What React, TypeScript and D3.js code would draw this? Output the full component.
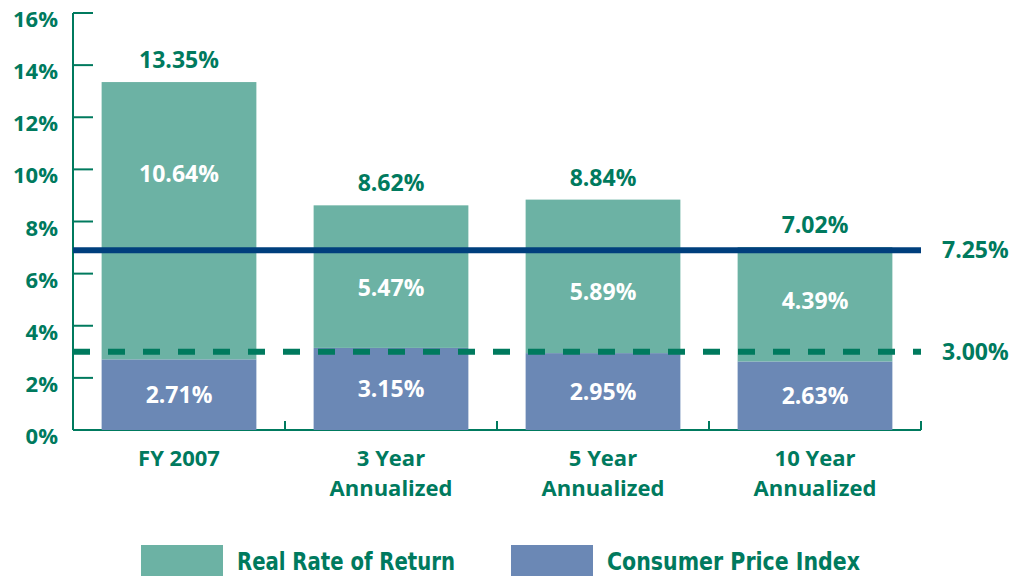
import * as d3 from "d3";
import { useEffect, useRef } from "react";

// chart values
const categories = ["FY 2007", "3 Year\nAnnualized", "5 Year\nAnnualized", "10 Year\nAnnualized"];
const cpiValues = [2.71, 3.15, 2.95, 2.63];
const realValues = [10.64, 5.47, 5.89, 4.39];
const totalValues = [13.35, 8.62, 8.84, 7.02];
const yTicks = [0, 2, 4, 6, 8, 10, 12, 14, 16];
const seriesNames = ["Real Rate of Return", "Consumer Price Index"];
// reference lines: label + where they are drawn in the picture
const targetLabels = ["7.25%", "3.00%"];
const targetLevels = [6.9, 3.0];

const GREEN = "#007a5e";
const REAL = "#6cb2a4";
const CPI = "#6b88b5";
const NAVY = "#003f7d";
const FONT = "'Open Sans', 'Noto Sans', sans-serif";
const NARROW = "'DejaVu Sans', sans-serif";

const App = () => {
  const svgRef = useRef<SVGSVGElement | null>(null);

  useEffect(() => {
    if (!svgRef.current) return;
    const svg = d3.select(svgRef.current);
    svg.selectAll("*").remove();

    const left = 73;
    const right = 921;
    const top = 13;
    const bottom = 430;

    const x = d3
      .scaleBand<number>()
      .domain(categories.map((_, i) => i))
      .range([left, right])
      .paddingInner(0.27)
      .paddingOuter(0.135);

    const y = d3.scaleLinear().domain([0, 16]).range([bottom, top]);

    // y axis
    svg
      .append("line")
      .attr("x1", left)
      .attr("x2", left)
      .attr("y1", y(16))
      .attr("y2", bottom)
      .attr("stroke", GREEN)
      .attr("stroke-width", 2);

    svg
      .selectAll(".ytick")
      .data(yTicks)
      .join("line")
      .attr("x1", left)
      .attr("x2", left + 20)
      .attr("y1", (d) => y(d))
      .attr("y2", (d) => y(d))
      .attr("stroke", GREEN)
      .attr("stroke-width", 2);

    // labels sit a little below their ticks, as in the original
    svg
      .selectAll(".ylabel")
      .data(yTicks)
      .join("text")
      .attr("x", 58)
      .attr("y", (d) => y(d) + 14)
      .attr("text-anchor", "end")
      .attr("font-family", FONT)
      .attr("font-weight", 700)
      .attr("font-size", 22)
      .attr("fill", GREEN)
      .text((d) => `${d}%`);

    // x axis
    svg
      .append("line")
      .attr("x1", left)
      .attr("x2", right)
      .attr("y1", bottom)
      .attr("y2", bottom)
      .attr("stroke", GREEN)
      .attr("stroke-width", 2);

    const step = x.step();
    svg
      .selectAll(".xtick")
      .data(categories.map((_, i) => i))
      .join("line")
      .attr("x1", (i) => left + step * (i + 1))
      .attr("x2", (i) => left + step * (i + 1))
      .attr("y1", bottom)
      .attr("y2", bottom - 9)
      .attr("stroke", GREEN)
      .attr("stroke-width", 2);

    // stacked bars
    const bars = svg
      .selectAll(".bar")
      .data(categories.map((_, i) => i))
      .join("g");

    bars
      .append("rect")
      .attr("x", (i) => x(i)!)
      .attr("width", x.bandwidth())
      .attr("y", (i) => y(cpiValues[i]))
      .attr("height", (i) => bottom - y(cpiValues[i]))
      .attr("fill", CPI);

    bars
      .append("rect")
      .attr("x", (i) => x(i)!)
      .attr("width", x.bandwidth())
      .attr("y", (i) => y(cpiValues[i] + realValues[i]))
      .attr("height", (i) => y(cpiValues[i]) - y(cpiValues[i] + realValues[i]))
      .attr("fill", REAL);

    // reference lines
    svg
      .append("line")
      .attr("x1", left)
      .attr("x2", right)
      .attr("y1", y(targetLevels[0]))
      .attr("y2", y(targetLevels[0]))
      .attr("stroke", NAVY)
      .attr("stroke-width", 6);

    svg
      .append("line")
      .attr("x1", left)
      .attr("x2", right)
      .attr("y1", y(targetLevels[1]))
      .attr("y2", y(targetLevels[1]))
      .attr("stroke", GREEN)
      .attr("stroke-width", 6)
      .attr("stroke-dasharray", "17 18");

    svg
      .selectAll(".target")
      .data(targetLevels)
      .join("text")
      .attr("x", 942)
      .attr("y", (d) => y(d) + 8)
      .attr("font-family", FONT)
      .attr("font-weight", 700)
      .attr("font-size", 23)
      .attr("fill", GREEN)
      .text((_, i) => targetLabels[i]);

    const cx = (i: number) => x(i)! + x.bandwidth() / 2;

    // totals above bars
    bars
      .append("text")
      .attr("x", cx)
      .attr("y", (i) => y(totalValues[i]) - 14)
      .attr("text-anchor", "middle")
      .attr("font-family", FONT)
      .attr("font-weight", 700)
      .attr("font-size", 23)
      .attr("fill", GREEN)
      .text((i) => `${totalValues[i].toFixed(2)}%`);

    // real return labels
    bars
      .append("text")
      .attr("x", cx)
      .attr("y", (i) =>
        Math.min(y(cpiValues[i] + realValues[i]) + 92, y(cpiValues[i]) - 60) + 8
      )
      .attr("text-anchor", "middle")
      .attr("font-family", FONT)
      .attr("font-weight", 700)
      .attr("font-size", 23)
      .attr("fill", "#fff")
      .text((i) => `${realValues[i].toFixed(2)}%`);

    // cpi labels
    bars
      .append("text")
      .attr("x", cx)
      .attr("y", (i) => (y(cpiValues[i]) + bottom) / 2 + 8)
      .attr("text-anchor", "middle")
      .attr("font-family", FONT)
      .attr("font-weight", 700)
      .attr("font-size", 23)
      .attr("fill", "#fff")
      .text((i) => `${cpiValues[i].toFixed(2)}%`);

    // category labels
    const cat = bars
      .append("text")
      .attr("text-anchor", "middle")
      .attr("font-family", FONT)
      .attr("font-weight", 700)
      .attr("font-size", 22)
      .attr("fill", GREEN);

    cat
      .selectAll("tspan")
      .data((i) => categories[i].split("\n").map((t) => ({ t, i })))
      .join("tspan")
      .attr("x", (d) => cx(d.i))
      .attr("y", (_, k) => 466 + k * 30)
      .text((d) => d.t);

    // legend
    const legendColors = [REAL, CPI];
    const legendX = [141, 511];
    const legendWidths = [218, 253];
    const legend = svg
      .selectAll(".legend")
      .data(seriesNames)
      .join("g")
      .attr("transform", (_, i) => `translate(${legendX[i]}, 545)`);

    legend
      .append("rect")
      .attr("width", 82)
      .attr("height", 34)
      .attr("fill", (_, i) => legendColors[i]);

    legend
      .append("text")
      .attr("x", 96)
      .attr("y", 25)
      .attr("font-family", NARROW)
      .attr("font-weight", 700)
      .attr("font-size", 25)
      .attr("font-stretch", "condensed")
      .attr("textLength", (_, i) => legendWidths[i])
      .attr("lengthAdjust", "spacingAndGlyphs")
      .attr("fill", GREEN)
      .text((d) => d);
  }, []);

  return (
    <svg
      ref={svgRef}
      width={1019}
      height={576}
      style={{ position: "absolute", left: 0, top: 0, background: "#fff" }}
    ></svg>
  );
};

export default App;
